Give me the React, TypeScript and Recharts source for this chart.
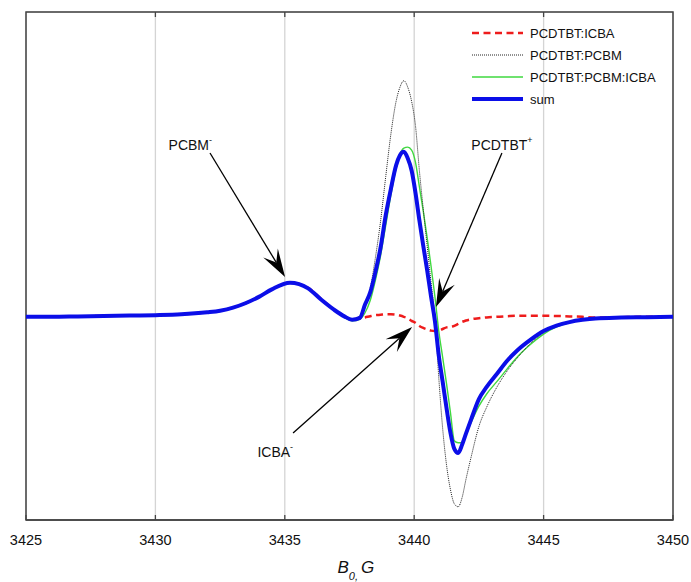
import React from 'react';
import { LineChart, Line, XAxis, YAxis, CartesianGrid, ReferenceLine, ReferenceArea, Legend } from 'recharts';

const FIELD = [3425, 3426, 3427, 3428, 3429, 3430, 3431, 3432,
  3432.5, 3433, 3433.5, 3434, 3434.5, 3435.2, 3435.9, 3436.4, 3436.9,
  3437.3, 3437.6, 3437.9,
  3438.1, 3438.3, 3438.5, 3438.7, 3438.9,
  3439.1, 3439.3, 3439.45, 3439.6, 3439.75, 3439.9,
  3440.05, 3440.2, 3440.35, 3440.5, 3440.65, 3440.8, 3440.95,
  3441.1, 3441.25, 3441.4, 3441.55, 3441.7, 3441.85,
  3442.0, 3442.2, 3442.5, 3442.8,
  3443.2, 3443.6, 3444.0, 3444.5, 3445.0, 3445.5, 3446.0, 3446.5,
  3447, 3448, 3449, 3450];

const ICBA = [0, 0, 0.002, 0.004, 0.006, 0.008, 0.012, 0.022,
  0.03, 0.045, 0.068, 0.098, 0.135, 0.168, 0.143, 0.088, 0.036,
  0.003, -0.012, -0.008,
  -0.003, 0.003, 0.008, 0.01, 0.012,
  0.012, 0.01, 0.006, 0.0, -0.008, -0.02,
  -0.03, -0.045, -0.055, -0.062, -0.068, -0.07, -0.068,
  -0.06, -0.052, -0.05, -0.045, -0.035, -0.025,
  -0.018, -0.012, -0.007, -0.003,
  0.0, 0.003, 0.005, 0.005, 0.005, 0.004, 0.002, 0.0,
  -0.004, -0.002, 0, 0];

const PCBM = [0, 0, 0.002, 0.004, 0.006, 0.008, 0.012, 0.022,
  0.03, 0.045, 0.068, 0.098, 0.135, 0.168, 0.14, 0.085, 0.035,
  0.002, -0.012, 0.005,
  0.06, 0.14, 0.29, 0.47, 0.69,
  0.9, 1.06, 1.13, 1.162, 1.13, 1.06,
  0.94, 0.72, 0.53, 0.35, 0.17, 0.0, -0.3,
  -0.55, -0.73, -0.85, -0.92, -0.935, -0.89,
  -0.8, -0.69, -0.54, -0.445,
  -0.345, -0.265, -0.2, -0.13, -0.078, -0.044, -0.024, -0.013,
  -0.006, -0.003, -0.001, 0];

const PCBM_ICBA = [0, 0, 0.002, 0.004, 0.006, 0.008, 0.012, 0.022,
  0.03, 0.045, 0.068, 0.098, 0.135, 0.168, 0.14, 0.085, 0.035,
  -0.002, -0.02, -0.012,
  0.02, 0.08, 0.18, 0.3, 0.45,
  0.6, 0.73, 0.8, 0.83, 0.835, 0.82,
  0.76, 0.64, 0.52, 0.39, 0.25, 0.1, -0.07,
  -0.2, -0.33, -0.47, -0.61, -0.62, -0.62,
  -0.58, -0.52, -0.44, -0.38,
  -0.318, -0.255, -0.195, -0.135, -0.085, -0.05, -0.028, -0.015,
  -0.008, -0.004, -0.002, 0];

const SUM = [0, 0, 0.002, 0.004, 0.006, 0.008, 0.012, 0.022,
  0.03, 0.045, 0.068, 0.098, 0.135, 0.168, 0.14, 0.085, 0.035,
  0.002, -0.014, -0.005,
  0.06, 0.12, 0.22, 0.34, 0.5,
  0.63, 0.745, 0.795, 0.812, 0.78, 0.72,
  0.61, 0.475, 0.35, 0.23, 0.1, -0.02, -0.19,
  -0.32, -0.45, -0.57, -0.65, -0.67, -0.63,
  -0.575, -0.505, -0.405, -0.345,
  -0.28, -0.215, -0.163, -0.112, -0.07, -0.043, -0.026, -0.015,
  -0.008, -0.004, -0.002, 0];

const X_TICKS = [3425, 3430, 3435, 3440, 3445, 3450];
const TOP_TICKS = [3430, 3435, 3440, 3445];
const SERIES_NAMES = ['PCDTBT:ICBA', 'PCDTBT:PCBM', 'PCDTBT:PCBM:ICBA', 'sum'];

// annotation arrows
const ANNOT_LABELS = ['PCBM', 'PCDTBT', 'ICBA'];
const ANNOT_SUPS = ['-', '+', '-'];
const ANNOT_START = [[3432.11, 0.806], [3443.39, 0.806], [3435.32, -0.572]];
const ANNOT_TIP = [[3435.01, 0.196], [3440.84, 0.048], [3439.92, -0.05]];

const data = FIELD.map((b, i) => ({
  B: b,
  icba: ICBA[i],
  pcbm: PCBM[i],
  both: PCBM_ICBA[i],
  sum: SUM[i],
}));

const FONT = '"Liberation Sans", Arial, Helvetica, sans-serif';
const COLORS = { red: '#ee1c1c', black: '#222222', green: '#3fd83f', blue: '#0b0ee8' };

const TEXT_OFFSETS: Array<[string, number, number]> = [
  ['end', 2, -3],
  ['middle', 0, -3],
  ['end', 0, 24],
];

function makeArrow(idx: number) {
  return (p: any) => {
    const { x1, y1, x2, y2 } = p;
    const ang = Math.atan2(y2 - y1, x2 - x1);
    const L = 28, W = 8.5, N = 17;
    const ux = Math.cos(ang), uy = Math.sin(ang);
    const px = -uy, py = ux;
    const bx = x2 - ux * L, by = y2 - uy * L;
    const nx = x2 - ux * N, ny = y2 - uy * N;
    const pts = [[x2, y2], [bx + px * W, by + py * W], [nx, ny], [bx - px * W, by - py * W]]
      .map((q) => q.join(',')).join(' ');
    const [anchor, dx, dy] = TEXT_OFFSETS[idx];
    return (
      <g>
        <line x1={x1} y1={y1} x2={nx} y2={ny} stroke="#000" strokeWidth={1.3} />
        <polygon points={pts} fill="#000" />
        <text x={x1 + dx} y={y1 + dy} textAnchor={anchor as any} fontSize={14} fontFamily={FONT} fill="#111">
          {ANNOT_LABELS[idx]}
          <tspan dy={-7} fontSize={9}>{ANNOT_SUPS[idx]}</tspan>
        </text>
      </g>
    );
  };
}

function topTick(p: any) {
  const { x1, y1, y2 } = p;
  const top = Math.min(y1, y2);
  return <line x1={x1} x2={x1} y1={top} y2={top + 5} stroke="#444" strokeWidth={1.3} />;
}

function LegendContent() {
  const rows = [
    { stroke: COLORS.red, width: 2.5, dash: '7 4.5' },
    { stroke: COLORS.black, width: 1, dash: '1 1' },
    { stroke: COLORS.green, width: 1.4, dash: undefined },
    { stroke: COLORS.blue, width: 4, dash: undefined },
  ];
  return (
    <svg width={220} height={92} style={{ display: 'block' }}>
      {rows.map((r, i) => (
        <g key={i}>
          <line x1={7} x2={58} y1={11 + i * 22} y2={11 + i * 22} stroke={r.stroke} strokeWidth={r.width} strokeDasharray={r.dash} />
          <text x={65} y={11 + i * 22 + 4.5} fontSize={13} fontFamily={FONT} fill="#111">{SERIES_NAMES[i]}</text>
        </g>
      ))}
    </svg>
  );
}

function AxisLabel(props: any) {
  const vb = props.viewBox || { x: 26, y: 520, width: 647, height: 62 };
  const x = vb.x + vb.width / 2 - 12;
  const y = vb.y + 53;
  return (
    <text x={x} y={y} fontFamily={FONT} fontStyle="italic" fontSize={17} fill="#111">
      B
      <tspan dy={7} fontSize={11}>0,</tspan>
      <tspan dy={-7} dx={3} fontSize={17}>G</tspan>
    </text>
  );
}

export default function App() {
  return (
    <div style={{ position: 'absolute', left: 0, top: 0, background: '#fff' }}>
      <LineChart width={691} height={582} data={data} margin={{ top: 12, right: 18, bottom: 0, left: 26 }}>
        <CartesianGrid xAxisId="b" yAxisId="l" stroke="#d4d4d4" strokeWidth={1.3} />
        <XAxis
          xAxisId="b"
          dataKey="B"
          type="number"
          domain={[3425, 3450]}
          ticks={X_TICKS}
          height={62}
          tickSize={-5}
          tickMargin={20}
          tickLine={{ stroke: '#444', strokeWidth: 1.3 }}
          axisLine={{ stroke: '#444', strokeWidth: 1.5 }}
          tick={{ fontSize: 14.5, fontFamily: FONT, fill: '#111' }}
          label={{ content: AxisLabel as any }}
        />
        <YAxis
          yAxisId="l"
          type="number"
          domain={[-1, 1.5]}
          ticks={[0]}
          width={0}
          tick={false}
          tickLine={false}
          axisLine={{ stroke: '#444', strokeWidth: 1.5 }}
        />
        <ReferenceArea
          xAxisId="b"
          yAxisId="l"
          x1={3425}
          x2={3450}
          y1={-1}
          y2={1.5}
          fill="none"
          fillOpacity={0}
          stroke="#444"
          strokeWidth={1.5}
          ifOverflow="visible"
        />
        {TOP_TICKS.map((t) => (
          <ReferenceLine key={'tt' + t} xAxisId="b" yAxisId="l" x={t} shape={topTick as any} />
        ))}
        <Line xAxisId="b" yAxisId="l" type="monotone" dataKey="both" stroke={COLORS.green} strokeWidth={1.4} dot={false} isAnimationActive={false} />
        <Line xAxisId="b" yAxisId="l" type="monotone" dataKey="pcbm" stroke={COLORS.black} strokeWidth={1} strokeDasharray="1 1" dot={false} isAnimationActive={false} />
        <Line xAxisId="b" yAxisId="l" type="monotone" dataKey="icba" stroke={COLORS.red} strokeWidth={2.5} strokeDasharray="7 4.5" dot={false} isAnimationActive={false} />
        <Line xAxisId="b" yAxisId="l" type="monotone" dataKey="sum" stroke={COLORS.blue} strokeWidth={4} dot={false} isAnimationActive={false} />
        {ANNOT_LABELS.map((_, i) => (
          <ReferenceLine
            key={i}
            xAxisId="b"
            yAxisId="l"
            segment={[{ x: ANNOT_START[i][0], y: ANNOT_START[i][1] }, { x: ANNOT_TIP[i][0], y: ANNOT_TIP[i][1] }]}
            shape={makeArrow(i) as any}
            ifOverflow="visible"
          />
        ))}
        <Legend
          layout="horizontal"
          verticalAlign="middle"
          align="center"
          content={() => <LegendContent />}
          wrapperStyle={{ left: 465, top: 22, width: 220, height: 92 }}
        />
      </LineChart>
    </div>
  );
}
